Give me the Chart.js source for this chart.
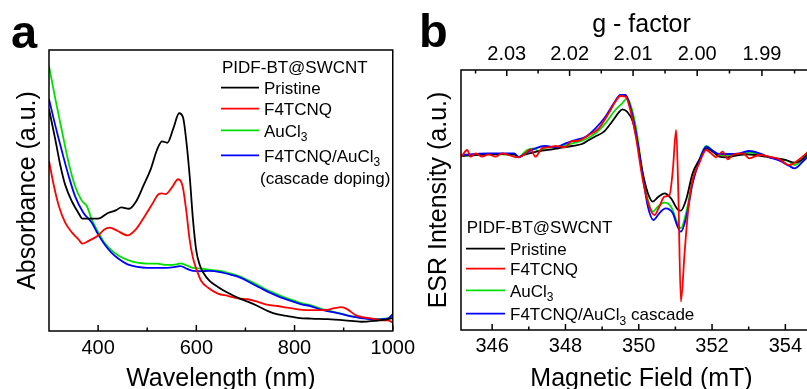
<!DOCTYPE html>
<html><head><meta charset="utf-8">
<script src="https://cdn.jsdelivr.net/npm/chart.js@4.4.1/dist/chart.umd.min.js"></script>
<style>
html,body{margin:0;padding:0;background:#fff;overflow:hidden;}
#wrap{position:relative;width:807px;height:389px;overflow:hidden;background:#fff;}
#ca{position:absolute;left:0;top:0;}
#cb{position:absolute;left:400px;top:0;}
</style></head><body>
<div id="wrap"><canvas id="ca" width="420" height="400"></canvas><canvas id="cb" width="430" height="400"></canvas></div>
<script>
// ---------- Panel a: UV-vis absorbance ----------
const aWlPristine = [300,313,323,333,347,360,368,380,400,420,437,447,463,477,493,507,520,530,541,553,565,573,580,587,593,600,607,614,627,644,664,685,705,725,746,766,786,807,834,868,902,936,963,990,1000];
const aAbsPristine = [0.79,0.68,0.59,0.52,0.46,0.42,0.40,0.40,0.40,0.42,0.43,0.44,0.435,0.46,0.52,0.575,0.645,0.675,0.67,0.72,0.775,0.76,0.67,0.54,0.40,0.285,0.235,0.208,0.178,0.157,0.136,0.118,0.104,0.089,0.071,0.059,0.053,0.047,0.044,0.042,0.038,0.033,0.036,0.042,0.047];
const aWlF4 = [300,310,320,333,347,360,368,380,400,412,423,440,460,477,493,510,523,530,537,550,563,572,580,586,593,600,610,624,644,664,685,705,725,746,766,786,807,834,861,881,895,908,922,936,956,976,990,1000];
const aAbsF4 = [0.605,0.516,0.445,0.386,0.35,0.326,0.311,0.32,0.34,0.36,0.368,0.356,0.34,0.362,0.403,0.451,0.487,0.49,0.487,0.51,0.54,0.516,0.421,0.33,0.261,0.221,0.178,0.154,0.133,0.125,0.116,0.113,0.104,0.093,0.089,0.083,0.077,0.074,0.074,0.081,0.085,0.077,0.059,0.05,0.045,0.038,0.038,0.03];
const aWlAu = [300,313,327,340,353,367,377,387,400,413,427,443,460,480,500,520,540,560,567,580,593,613,624,651,671,692,712,732,753,773,793,814,834,854,875,895,915,936,963,990,1000];
const aAbsAu = [0.943,0.825,0.706,0.599,0.516,0.463,0.445,0.397,0.352,0.314,0.288,0.267,0.253,0.243,0.24,0.24,0.235,0.237,0.241,0.234,0.225,0.222,0.218,0.213,0.204,0.192,0.175,0.157,0.139,0.124,0.112,0.099,0.091,0.079,0.07,0.062,0.053,0.047,0.042,0.045,0.055];
const aWlCascade = [300,313,327,340,353,370,387,400,413,427,443,460,480,500,520,540,560,568,580,593,613,624,651,671,692,712,732,753,773,793,814,834,854,875,895,915,936,963,990,1000];
const aAbsCascade = [0.825,0.73,0.635,0.552,0.48,0.421,0.386,0.344,0.309,0.279,0.255,0.237,0.228,0.225,0.225,0.225,0.229,0.231,0.222,0.214,0.213,0.214,0.209,0.2,0.188,0.17,0.152,0.134,0.119,0.107,0.095,0.088,0.076,0.068,0.061,0.052,0.046,0.041,0.044,0.06];
const aXTicks = [400,600,800,1000];
const aXMinor = [500,700,900];

// ---------- Panel b: ESR ----------
const bFieldPristine = [345.16,345.55,345.9,346.27,346.6,346.73,346.86,347.1,347.36,347.64,347.9,348.18,348.45,348.64,348.8,349.05,349.27,349.45,349.55,349.68,349.84,349.97,350.11,350.25,350.38,350.52,350.7,350.88,351.06,351.15,351.29,351.47,351.65,351.84,352.02,352.2,352.38,352.65,352.93,353.2,353.47,353.75,354.02,354.25,354.47,354.62];
const bEsrPristine = [-3,-2,-1.3,-1,-1.3,-4.3,-2,0.3,2.3,3.7,5.3,7,9,13,16.3,21.3,31.3,40.3,43.7,41.3,31.3,9.7,-20.3,-40.3,-48.7,-44.3,-40.3,-45.3,-56.3,-57.7,-47,-20.3,-7,4.7,1.3,-3.7,-4.3,-2.7,-1.3,-2,-3.7,-5.3,-7,-9.7,-6.3,-0.3];
const bFieldF4 = [345.16,345.32,345.41,345.55,345.73,345.9,346.09,346.27,346.45,346.68,346.86,347.05,347.18,347.36,347.55,347.73,348.0,348.14,348.36,348.64,348.91,349.18,349.36,349.5,349.64,349.77,349.92,350.11,350.29,350.43,350.56,350.7,350.84,350.93,351.02,351.08,351.15,351.25,351.34,351.47,351.65,351.84,351.97,352.11,352.29,352.43,352.56,352.84,353.02,353.29,353.56,353.84,354.11,354.29,354.47,354.62];
const bEsrF4 = [-3.7,3,-3.7,-0.3,-3.7,-1.3,-3.7,-0.3,-2,-4.3,-2,3.7,-3.7,4.7,5.7,7,5.7,11.3,12.3,18,24.7,39.7,51.3,57,56.3,43,16.3,-27,-53.7,-62,-53.7,-43.7,-42,-17,23,-40.3,-148.7,-100.3,-60.3,-27,-10.3,3,-0.3,-4.3,1.3,-6.3,-2,-0.3,-5.3,-2,-3.7,-6.3,-12,-8.7,-3.7,1.3];
const bFieldAu = [345.16,345.55,345.9,346.27,346.6,346.73,346.95,347.14,347.27,347.5,347.73,348.0,348.27,348.55,348.82,349.09,349.36,349.55,349.68,349.82,349.95,350.11,350.25,350.38,350.52,350.7,350.88,351.06,351.15,351.29,351.47,351.65,351.84,352.02,352.2,352.47,352.75,353.02,353.29,353.56,353.84,354.11,354.25,354.47,354.62];
const bEsrAu = [-2.7,-2,-1.3,-1.3,-1.7,-3.7,3,4.7,1.3,5.7,5.7,8,10.3,13.7,19.7,29.7,43,49.7,54.7,43,19.7,-22,-47,-58.7,-53.7,-49.7,-53.7,-70.3,-75.3,-60.3,-27,-7,7,2.3,-2,-2,-1,0.3,-1,-3.7,-6.3,-8.7,-12,-6.3,-1.3];
const bFieldCascade = [345.16,345.55,345.9,346.27,346.6,346.73,346.91,347.18,347.45,347.73,348.0,348.27,348.55,348.82,349.09,349.32,349.5,349.64,349.77,349.91,350.11,350.25,350.4,350.56,350.73,350.93,351.06,351.15,351.29,351.47,351.65,351.84,352.02,352.2,352.47,352.75,353.02,353.29,353.56,353.84,354.11,354.25,354.47,354.62];
const bEsrCascade = [-2,-1,-0.3,-0.3,-0.3,-4.3,-0.3,4.7,7,5.7,9.7,13,16.3,24.7,36.3,49.7,58,58,46.3,23,-23.7,-53.7,-67,-60.3,-55.3,-60.3,-73.7,-78.7,-65.3,-30.3,-8.7,6.3,2.3,-1,-1,-0.3,2,-0.3,-4.3,-7.7,-13,-15.3,-8.7,-3.7];
const bXTicks = [346,348,350,352,354];
const bXMinor = [347,349,351,353,355];
const gTicks = [2.03,2.02,2.01,2.00,1.99];
const gMinor = [2.035,2.025,2.015,2.005,1.995,1.985];
const mwFreqGHz = 9.842; // g = 71.4477 * f(GHz) / B(mT)

const seriesNames = ['Pristine','F4TCNQ','AuCl\u2083','F4TCNQ/AuCl\u2083'];
const legendTitle = 'PIDF-BT@SWCNT';
const aLegendLabels = [['Pristine'],['F4TCNQ'],['AuCl',{sub:'3'}],['F4TCNQ/AuCl',{sub:'3'}]];
const aLegendExtra = '(cascade doping)';
const bLegendLabels = [['Pristine'],['F4TCNQ'],['AuCl',{sub:'3'}],['F4TCNQ/AuCl',{sub:'3'},' cascade']];

// ---------- rendering ----------
const FONT = "'Liberation Sans', Arial, Helvetica, sans-serif";
Chart.defaults.font.family = FONT;
Chart.defaults.color = '#000';
const COLORS = ['#000000','#ff0000','#00e000','#0000ff'];
const pts = (xs, ys) => xs.map((x, i) => ({x: x, y: ys[i]}));
const gToField = g => 71.4477 * mwFreqGHz / g;

function drawRich(ctx, parts, x, y, size) {
  let cx = x;
  parts.forEach(p => {
    if (typeof p === 'string') {
      ctx.font = size + 'px ' + FONT;
      ctx.fillText(p, cx, y);
      cx += ctx.measureText(p).width;
    } else {
      ctx.font = Math.round(size * 0.7) + 'px ' + FONT;
      ctx.fillText(p.sub, cx, y + size * 0.27);
      cx += ctx.measureText(p.sub).width;
    }
  });
}

function decor(cfg) {
  return {
    id: 'decor',
    afterDraw(chart) {
      const ctx = chart.ctx, a = chart.chartArea;
      ctx.save();
      ctx.strokeStyle = '#000';
      ctx.lineWidth = 1.5;
      ctx.strokeRect(a.left, a.top, a.right - a.left, a.bottom - a.top);
      cfg.ticks.forEach(t => {
        const s = chart.scales[t.scale];
        const draw = (vals, len) => vals.forEach(v => {
          const px = s.getPixelForValue(v);
          ctx.beginPath();
          if (t.edge === 'bottom') { ctx.moveTo(px, a.bottom); ctx.lineTo(px, a.bottom - len); }
          else { ctx.moveTo(px, a.top); ctx.lineTo(px, a.top + len); }
          ctx.stroke();
        });
        draw(t.major, 6);
        draw(t.minor, 3.5);
      });
      ctx.fillStyle = '#000';
      ctx.textBaseline = 'alphabetic';
      ctx.textAlign = 'left';
      ctx.font = 'bold 47px ' + FONT;
      ctx.fillText(cfg.letter.text, cfg.letter.x, cfg.letter.y);
      const L = cfg.legend;
      ctx.font = '17px ' + FONT;
      ctx.fillText(legendTitle, L.titleX, L.titleY);
      L.labels.forEach((parts, i) => {
        const by = L.baselines[i];
        ctx.strokeStyle = COLORS[i];
        ctx.lineWidth = 1.7;
        ctx.beginPath();
        ctx.moveTo(L.x1, by - 6.3);
        ctx.lineTo(L.x2, by - 6.3);
        ctx.stroke();
        drawRich(ctx, parts, L.textX, by, 17);
      });
      if (L.extra) {
        ctx.font = '17px ' + FONT;
        ctx.fillText(L.extra.text, L.extra.x, L.extra.y);
      }
      ctx.restore();
    }
  };
}

const lineDefaults = {pointRadius: 0, borderWidth: 1.8, cubicInterpolationMode: 'monotone', fill: false};
const noGrid = {display: false, drawTicks: false};

new Chart(document.getElementById('ca'), {
  type: 'line',
  data: {datasets: [
    Object.assign({label: seriesNames[0], data: pts(aWlPristine, aAbsPristine), borderColor: COLORS[0], order: 0}, lineDefaults),
    Object.assign({label: seriesNames[1], data: pts(aWlF4, aAbsF4), borderColor: COLORS[1], order: 1}, lineDefaults),
    Object.assign({label: seriesNames[2], data: pts(aWlAu, aAbsAu), borderColor: COLORS[2], order: 3}, lineDefaults),
    Object.assign({label: seriesNames[3], data: pts(aWlCascade, aAbsCascade), borderColor: COLORS[3], order: 2}, lineDefaults)
  ]},
  options: {
    responsive: false, animation: false, devicePixelRatio: 1,
    layout: {padding: {left: 0, top: 50, right: 24, bottom: 0}},
    plugins: {legend: {display: false}, tooltip: {enabled: false}},
    scales: {
      x: {type: 'linear', position: 'bottom', min: 300, max: 1000,
        afterFit: s => { s.height = 69; },
        afterBuildTicks: s => { s.ticks = aXTicks.map(v => ({value: v})); },
        grid: noGrid, border: {display: false},
        ticks: {font: {size: 20}, padding: 5, maxRotation: 0, autoSkip: false, callback: v => String(v)},
        title: {display: true, text: 'Wavelength (nm)', font: {size: 25}, padding: {top: 0, bottom: 6}}},
      y: {type: 'linear', min: 0, max: 1,
        afterFit: s => { s.width = 49; },
        grid: noGrid, border: {display: false}, ticks: {display: false},
        title: {display: true, text: 'Absorbance (a.u.)', font: {size: 25}, padding: {top: 13, bottom: 0}}}
    }
  },
  plugins: [decor({
    ticks: [{scale: 'x', edge: 'bottom', major: aXTicks, minor: aXMinor}],
    letter: {text: 'a', x: 11, y: 48},
    legend: {titleX: 222, titleY: 73.3, x1: 221, x2: 259, textX: 264,
      baselines: [94, 115, 136.7, 161.7], labels: aLegendLabels,
      extra: {text: aLegendExtra, x: 260, y: 184}}
  })]
});

new Chart(document.getElementById('cb'), {
  type: 'line',
  data: {datasets: [
    Object.assign({label: seriesNames[0], data: pts(bFieldPristine, bEsrPristine), borderColor: COLORS[0], order: 2}, lineDefaults),
    Object.assign({label: seriesNames[1], data: pts(bFieldF4, bEsrF4), borderColor: COLORS[1], order: 0}, lineDefaults),
    Object.assign({label: seriesNames[2], data: pts(bFieldAu, bEsrAu), borderColor: COLORS[2], order: 3}, lineDefaults),
    Object.assign({label: seriesNames[3], data: pts(bFieldCascade, bEsrCascade), borderColor: COLORS[3], order: 1}, lineDefaults)
  ]},
  options: {
    responsive: false, animation: false, devicePixelRatio: 1,
    layout: {padding: {left: 0, top: 0, right: 8, bottom: 0}},
    plugins: {legend: {display: false}, tooltip: {enabled: false}},
    scales: {
      x: {type: 'linear', position: 'bottom', min: 345.15, max: 355,
        afterFit: s => { s.height = 70; },
        afterBuildTicks: s => { s.ticks = bXTicks.map(v => ({value: v})); },
        grid: noGrid, border: {display: false},
        ticks: {font: {size: 20}, padding: 4.4, maxRotation: 0, autoSkip: false, callback: v => String(v)},
        title: {display: true, text: 'Magnetic Field (mT)', font: {size: 25}, padding: {top: 0, bottom: 6}}},
      x2: {type: 'linear', position: 'top', min: 345.15, max: 355,
        afterFit: s => { s.height = 70; },
        afterBuildTicks: s => { s.ticks = gTicks.map(g => ({value: gToField(g)})); },
        grid: noGrid, border: {display: false},
        ticks: {font: {size: 20}, padding: 3.2, maxRotation: 0, autoSkip: false, callback: (v, i) => gTicks[i].toFixed(2)},
        title: {display: true, text: 'g - factor', font: {size: 25}, padding: {top: 10, bottom: 0}}},
      y: {type: 'linear', min: -177, max: 83,
        afterFit: s => { s.width = 61; },
        grid: noGrid, border: {display: false}, ticks: {display: false},
        title: {display: true, text: 'ESR Intensity (a.u.)', font: {size: 25}, padding: {top: 24.5, bottom: 0}}}
    }
  },
  plugins: [decor({
    ticks: [{scale: 'x', edge: 'bottom', major: bXTicks, minor: bXMinor},
            {scale: 'x2', edge: 'top', major: gTicks.map(gToField), minor: gMinor.map(gToField)}],
    letter: {text: 'b', x: 19, y: 46.7},
    legend: {titleX: 66.7, titleY: 233.3, x1: 66, x2: 105, textX: 110,
      baselines: [255, 275, 296.7, 320], labels: bLegendLabels}
  })]
});
</script>
</body></html>
